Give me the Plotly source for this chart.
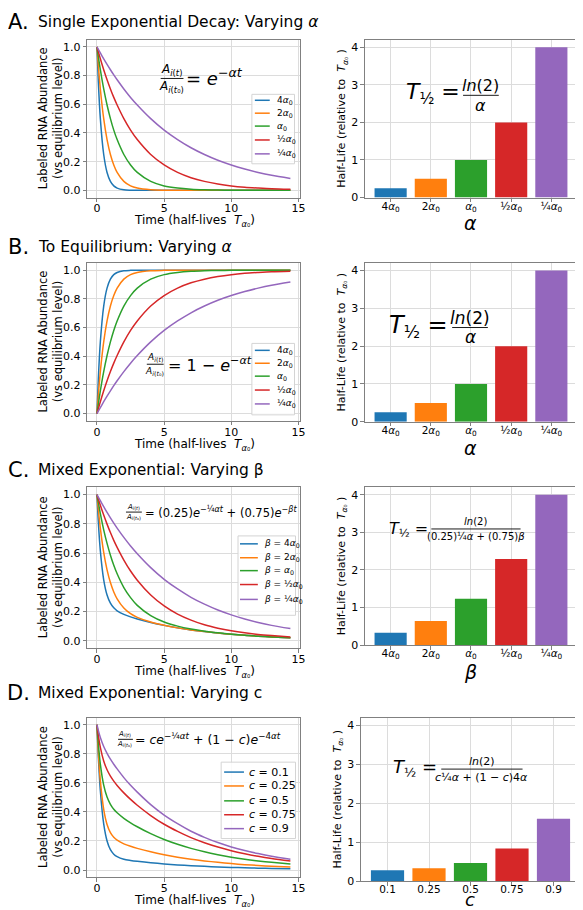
import plotly.graph_objects as go

W, H = 583, 910
FONT = "DejaVu Sans"
COLORS = ["#1f77b4", "#ff7f0e", "#2ca02c", "#d62728", "#9467bd"]

# ---------------- data ----------------
T = [0, 0.1, 0.25, 0.5, 0.75, 1, 1.25, 1.5, 2, 2.5, 3, 4, 5, 6, 7, 8, 9, 10, 11, 12, 13, 14.4]

A_4a = [1, 0.758, 0.5, 0.25, 0.125, 0.0625, 0.031, 0.016, 0.004, 0.001, 0, 0, 0, 0, 0, 0, 0, 0, 0, 0, 0, 0]
A_2a = [1, 0.871, 0.707, 0.5, 0.354, 0.25, 0.177, 0.125, 0.0625, 0.031, 0.016, 0.004, 0.001, 0, 0, 0, 0, 0, 0, 0, 0, 0]
A_1a = [1, 0.933, 0.841, 0.707, 0.595, 0.5, 0.42, 0.354, 0.25, 0.177, 0.125, 0.0625, 0.031, 0.016, 0.008, 0.004, 0.002, 0.001, 0.0005, 0.0002, 0.0001, 0]
A_ha = [1, 0.966, 0.917, 0.841, 0.771, 0.707, 0.648, 0.595, 0.5, 0.42, 0.354, 0.25, 0.177, 0.125, 0.088, 0.0625, 0.044, 0.031, 0.022, 0.016, 0.011, 0.007]
A_qa = [1, 0.983, 0.958, 0.917, 0.878, 0.841, 0.805, 0.771, 0.707, 0.648, 0.595, 0.5, 0.42, 0.354, 0.297, 0.25, 0.21, 0.177, 0.149, 0.125, 0.105, 0.083]

B_4a = [0, 0.242, 0.5, 0.75, 0.875, 0.9375, 0.969, 0.984, 0.996, 0.999, 1, 1, 1, 1, 1, 1, 1, 1, 1, 1, 1, 1]
B_2a = [0, 0.129, 0.293, 0.5, 0.646, 0.75, 0.823, 0.875, 0.9375, 0.969, 0.984, 0.996, 0.999, 1, 1, 1, 1, 1, 1, 1, 1, 1]
B_1a = [0, 0.067, 0.159, 0.293, 0.405, 0.5, 0.58, 0.646, 0.75, 0.823, 0.875, 0.9375, 0.969, 0.984, 0.992, 0.996, 0.998, 0.999, 1, 1, 1, 1]
B_ha = [0, 0.034, 0.083, 0.159, 0.229, 0.293, 0.352, 0.405, 0.5, 0.58, 0.646, 0.75, 0.823, 0.875, 0.912, 0.9375, 0.956, 0.969, 0.978, 0.984, 0.989, 0.993]
B_qa = [0, 0.017, 0.042, 0.083, 0.122, 0.159, 0.195, 0.229, 0.293, 0.352, 0.405, 0.5, 0.58, 0.646, 0.703, 0.75, 0.79, 0.823, 0.851, 0.875, 0.895, 0.917]

C_4a = [1, 0.814, 0.615, 0.417, 0.313, 0.257, 0.225, 0.205, 0.18, 0.163, 0.149, 0.125, 0.105, 0.088, 0.074, 0.0625, 0.053, 0.044, 0.037, 0.031, 0.026, 0.021]
C_2a = [1, 0.899, 0.77, 0.604, 0.485, 0.398, 0.334, 0.287, 0.224, 0.185, 0.16, 0.128, 0.106, 0.088, 0.074, 0.0625, 0.053, 0.044, 0.037, 0.031, 0.026, 0.021]
C_1a = [1, 0.946, 0.87, 0.759, 0.666, 0.585, 0.516, 0.458, 0.364, 0.295, 0.242, 0.172, 0.128, 0.1, 0.08, 0.065, 0.054, 0.045, 0.038, 0.031, 0.026, 0.021]
C_ha = [1, 0.97, 0.927, 0.86, 0.798, 0.74, 0.687, 0.639, 0.552, 0.477, 0.414, 0.313, 0.238, 0.182, 0.141, 0.109, 0.086, 0.068, 0.054, 0.043, 0.035, 0.026]
C_qa = [1, 0.983, 0.958, 0.917, 0.878, 0.841, 0.805, 0.771, 0.707, 0.648, 0.595, 0.5, 0.42, 0.354, 0.297, 0.25, 0.21, 0.177, 0.149, 0.125, 0.105, 0.083]

D_c01 = [1, 0.78, 0.546, 0.317, 0.2, 0.14, 0.109, 0.092, 0.074, 0.066, 0.06, 0.05, 0.042, 0.035, 0.03, 0.025, 0.021, 0.018, 0.015, 0.0125, 0.0105, 0.008]
D_c025 = [1, 0.814, 0.615, 0.417, 0.313, 0.257, 0.225, 0.205, 0.18, 0.163, 0.149, 0.125, 0.105, 0.088, 0.074, 0.0625, 0.053, 0.044, 0.037, 0.031, 0.026, 0.021]
D_c05 = [1, 0.871, 0.729, 0.584, 0.502, 0.452, 0.418, 0.394, 0.356, 0.325, 0.298, 0.25, 0.21, 0.177, 0.149, 0.125, 0.105, 0.088, 0.074, 0.0625, 0.053, 0.041]
D_c075 = [1, 0.927, 0.844, 0.75, 0.69, 0.646, 0.612, 0.582, 0.531, 0.486, 0.446, 0.375, 0.315, 0.266, 0.223, 0.188, 0.158, 0.133, 0.112, 0.094, 0.079, 0.062]
D_c09 = [1, 0.961, 0.912, 0.85, 0.803, 0.763, 0.728, 0.696, 0.636, 0.583, 0.536, 0.45, 0.378, 0.319, 0.267, 0.225, 0.189, 0.159, 0.134, 0.113, 0.095, 0.074]

HL_A = [0.25, 0.5, 1, 2, 4]
HL_B = [0.25, 0.5, 1, 2, 4]
HL_C = [0.33, 0.64, 1.23, 2.29, 4.0]
HL_D = [0.28, 0.33, 0.47, 0.84, 1.6]

A0 = "<i>α</i><sub>0</sub>"
LAB_ALPHA = ["4" + A0, "2" + A0, A0, "½" + A0, "¼" + A0]
LAB_BETA = ["<i>β</i> = 4" + A0, "<i>β</i> = 2" + A0, "<i>β</i> = " + A0,
            "<i>β</i> = ½" + A0, "<i>β</i> = ¼" + A0]
LAB_C = ["<i>c</i> = 0.1", "<i>c</i> = 0.25", "<i>c</i> = 0.5", "<i>c</i> = 0.75", "<i>c</i> = 0.9"]
TICK_ALPHA = ["4" + A0, "2" + A0, A0, "½" + A0, "¼" + A0]
TICK_C = ["0.1", "0.25", "0.5", "0.75", "0.9"]

# ---------------- helpers ----------------
def px(x):
    return x / W


def py(y):
    return 1 - y / H


annotations = []
shapes = []


def text(x, y, s, size, xanchor="center", yanchor="middle", angle=0):
    annotations.append(dict(x=px(x), y=py(y), xref="paper", yref="paper", text=s,
                            showarrow=False, textangle=angle, xanchor=xanchor,
                            yanchor=yanchor, borderpad=0,
                            font=dict(family=FONT, size=size, color="black")))


def hline(x0, x1, y, color="black", width=1.0):
    shapes.append(dict(type="line", xref="paper", yref="paper", x0=px(x0), x1=px(x1),
                       y0=py(y), y1=py(y), line=dict(color=color, width=width)))


def frac(num, den, xc, ybar, x0, x1, size, off):
    text(xc, ybar - off, num, size)
    text(xc, ybar + off, den, size)
    hline(x0, x1, ybar, width=0.9)


fig = go.Figure()
layout = dict(width=W, height=H, margin=dict(l=0, r=0, t=0, b=0),
              paper_bgcolor="white", plot_bgcolor="white", showlegend=False,
              font=dict(family=FONT, size=11, color="black"))

GRID = "#dcdcdc"
FRAME = "#808080"


def axis_common():
    return dict(showgrid=True, gridcolor=GRID, gridwidth=1, showline=True, linecolor=FRAME,
                linewidth=1, mirror=True, ticks="outside", ticklen=3.5, tickcolor=FRAME,
                zeroline=False, tickfont=dict(family=FONT, size=11, color="black"))


panels = [
    dict(letter="A.", title="Single Exponential Decay: Varying <i>α</i>", ty=14,
         left=(80, 32, 295, 191), right=(360, 32, 574, 191),
         series=[A_4a, A_2a, A_1a, A_ha, A_qa], bars=HL_A, ticks=TICK_ALPHA,
         xlab="<i>α</i>", xlab_y=217, xlab_size=19,
         legend=dict(box=(246, 87, 289, 157), rows=[93, 106, 119, 133, 147],
                     line=(249, 264), tx=270, size=9, labels=LAB_ALPHA)),
    dict(letter="B.", title="To Equilibrium: Varying <i>α</i>", ty=241,
         left=(80, 257, 295, 416), right=(360, 257, 574, 417),
         series=[B_4a, B_2a, B_1a, B_ha, B_qa], bars=HL_B, ticks=TICK_ALPHA,
         xlab="<i>α</i>", xlab_y=443, xlab_size=19,
         legend=dict(box=(246, 338, 289, 410), rows=[345, 358, 371, 385, 399],
                     line=(249, 264), tx=270, size=9, labels=LAB_ALPHA)),
    dict(letter="C.", title="Mixed Exponential: Varying β", ty=466,
         left=(80, 483, 295, 645), right=(360, 483, 574, 642),
         series=[C_4a, C_2a, C_1a, C_ha, C_qa], bars=HL_C, ticks=TICK_ALPHA,
         xlab="<i>β</i>", xlab_y=669, xlab_size=19,
         legend=dict(box=(232, 532, 290, 612), rows=[540, 554, 567, 581, 596],
                     line=(234, 252), tx=257, size=9, labels=LAB_BETA)),
    dict(letter="D.", title="Mixed Exponential: Varying c", ty=690,
         left=(80, 715, 295, 876), right=(356, 715, 577, 880),
         series=[D_c01, D_c025, D_c05, D_c075, D_c09], bars=HL_D, ticks=TICK_C,
         xlab="<i>c</i>", xlab_y=898, xlab_size=18,
         legend=dict(box=(215, 760, 290, 837), rows=[770, 784, 799, 813, 827],
                     line=(218, 238), tx=242, size=11, labels=LAB_C)),
]

for i, p in enumerate(panels):
    nl, nr = 2 * i + 1, 2 * i + 2
    xl = "x" if nl == 1 else f"x{nl}"
    yl = "y" if nl == 1 else f"y{nl}"
    xr, yr = f"x{nr}", f"y{nr}"

    # left: curves
    lx0, ly0, lx1, ly1 = p["left"]
    ax = axis_common()
    ax.update(domain=[px(lx0), px(lx1)], range=[-0.72, 15.15], anchor=yl, tick0=0, dtick=5,
              ticklabelstandoff=-3)
    layout["xaxis" if nl == 1 else f"xaxis{nl}"] = ax
    ay = axis_common()
    ay.update(domain=[py(ly1), py(ly0)], range=[-0.05, 1.05], anchor=xl, tick0=0, dtick=0.2,
              tickformat=".1f")
    layout["yaxis" if nl == 1 else f"yaxis{nl}"] = ay
    for k, s in enumerate(p["series"]):
        fig.add_trace(go.Scatter(x=T, y=s, mode="lines", xaxis=xl, yaxis=yl,
                                 line=dict(color=COLORS[k], width=1.5, shape="spline", smoothing=0.8),
                                 hoverinfo="skip"))

    # right: bars
    rx0, ry0, rx1, ry1 = p["right"]
    bx = axis_common()
    bx.update(domain=[px(rx0), px(rx1)], range=[-0.64, 4.64], anchor=yr,
              tickvals=[0, 1, 2, 3, 4], ticktext=p["ticks"], ticklabelstandoff=-5,
              tickfont=dict(family=FONT, size=10.5, color="black"))
    layout[f"xaxis{nr}"] = bx
    by = axis_common()
    by.update(domain=[py(ry1), py(ry0)], range=[0, 4.2], anchor=xr, tick0=0, dtick=1)
    layout[f"yaxis{nr}"] = by
    fig.add_trace(go.Bar(x=[0, 1, 2, 3, 4], y=p["bars"], width=0.8, xaxis=xr, yaxis=yr,
                         marker=dict(color=COLORS, line=dict(width=0)), hoverinfo="skip"))

    # titles
    text(11, p["ty"], p["letter"], 21)
    text(29, p["ty"], p["title"], 15.5, xanchor="left")

    # axis titles
    cy = (ly0 + ly1) / 2
    text(43, cy, "Labeled RNA Abundance<br>(vs equilibrium level)", 11.5, angle=-90)
    text(188, ly1 + 24, "Time (half-lives  <i>T</i><sub><i>α</i>₀</sub>)", 12)
    text(rx0 - 23, (ry0 + ry1) / 2, "Half-Life (relative to  <i>T</i><sub><i>α</i>₀</sub> )", 11, angle=-90)
    text((rx0 + rx1) / 2, p["xlab_y"], p["xlab"], p["xlab_size"])

    # manual legend
    lg = p["legend"]
    bx0, by0, bx1, by1 = lg["box"]
    shapes.append(dict(type="rect", xref="paper", yref="paper", x0=px(bx0), x1=px(bx1),
                       y0=py(by1), y1=py(by0), fillcolor="rgba(255,255,255,0.85)",
                       line=dict(color="#d4d4d4", width=1)))
    for k, (ry, lab) in enumerate(zip(lg["rows"], lg["labels"])):
        hline(lg["line"][0], lg["line"][1], ry, color=COLORS[k], width=1.5)
        text(lg["tx"], ry, lab, lg["size"], xanchor="left")

# ---------------- formulas ----------------
NUM = "<i>A</i><sub><i>i</i>(<i>t</i>)</sub>"
DEN = "<i>A</i><sub><i>i</i>(<i>t</i>₀)</sub>"
THALF = "<i>T</i><sub>½</sub> ="

# A
frac(NUM, DEN, 165, 71, 154, 177, 12, 9)
text(179, 70, "= <i>e</i><sup>−<i>αt</i></sup>", 18, xanchor="left")
text(457, 86, THALF, 22, xanchor="right")
frac("<i>ln</i>(2)", "<i>α</i>", 477, 88, 459, 495, 16, 10)

# B
frac(NUM, DEN, 148, 359, 140, 157, 9, 7)
text(160, 359, "= 1 − <i>e</i><sup>−<i>αt</i></sup>", 16, xanchor="left")
text(445, 321, THALF, 24, xanchor="right")
frac("<i>ln</i>(2)", "<i>α</i>", 466, 322, 448, 484, 17, 10)

# C
frac(NUM, DEN, 127, 508, 119, 135, 7, 5)
text(137, 508, "= (0.25)<i>e</i><sup>−¼<i>αt</i></sup> + (0.75)<i>e</i><sup>−<i>βt</i></sup>", 11.5, xanchor="left")
text(425, 526, THALF, 16, xanchor="right")
frac("<i>ln</i>(2)", "(0.25)¼<i>α</i> + (0.75)<i>β</i>", 472, 525, 427, 517, 10, 8)

# D
frac(NUM, DEN, 118, 737, 111, 126, 7, 5)
text(127, 737, "= <i>ce</i><sup>−¼<i>αt</i></sup> + (1 − <i>c</i>)<i>e</i><sup>−4<i>αt</i></sup>", 12.5, xanchor="left")
text(434, 766, THALF, 18, xanchor="right")
frac("<i>ln</i>(2)", "<i>c</i>¼<i>α</i> + (1 − <i>c</i>)4<i>α</i>", 478, 767, 437, 519, 11, 8)

layout["annotations"] = annotations
layout["shapes"] = shapes
fig.update_layout(**layout)
fig.write_html("out.html")
